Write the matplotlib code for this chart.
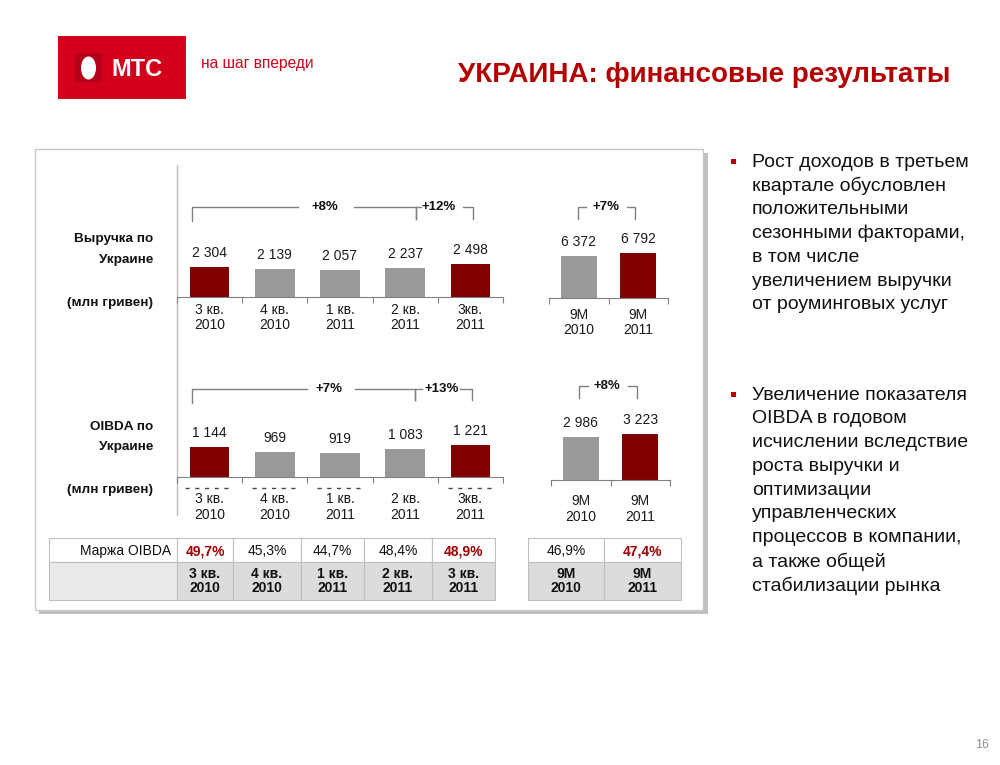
import matplotlib
matplotlib.use('Agg')
import matplotlib.pyplot as plt
from matplotlib.patches import Rectangle, Ellipse, FancyBboxPatch
import numpy as np

W, H = 1000, 765
RED = '#800000'
GREY = '#999999'
LINE = '#808080'
NARROW = ['Liberation Sans Narrow', 'Liberation Sans', 'DejaVu Sans']
SANS = ['Liberation Sans', 'DejaVu Sans']

# chart data
quarters = ['3 кв.\n2010', '4 кв.\n2010', '1 кв.\n2011', '2 кв.\n2011', '3кв.\n2011']
revenue_q = [2304, 2139, 2057, 2237, 2498]
oibda_q = [1144, 969, 919, 1083, 1221]
q_red = [True, False, False, False, True]

periods_9m = ['9M\n2010', '9M\n2011']
revenue_9m = [6372, 6792]
oibda_9m = [2986, 3223]
m9_red = [False, True]

revenue_growth = ['+8%', '+12%', '+7%']
oibda_growth = ['+7%', '+13%', '+8%']

# OIBDA margin table
margin_q = ['49,7%', '45,3%', '44,7%', '48,4%', '48,9%']
margin_9m = ['46,9%', '47,4%']
table_q = ['3 кв.\n2010', '4 кв.\n2010', '1 кв.\n2011', '2 кв.\n2011', '3 кв.\n2011']
table_9m = ['9M\n2010', '9M\n2011']

bullet1 = ['Рост доходов в третьем', 'квартале обусловлен', 'положительными',
           'сезонными факторами,', 'в том числе', 'увеличением выручки',
           'от роуминговых услуг']
bullet2 = ['Увеличение показателя', 'OIBDA в годовом', 'исчислении вследствие',
           'роста выручки и', 'оптимизации', 'управленческих',
           'процессов в компании,', 'а также общей', 'стабилизации рынка']


fig = plt.figure(figsize=(W / 100, H / 100), dpi=100, facecolor='white')
bg = fig.add_axes([0, 0, 1, 1])
bg.set_xlim(0, W)
bg.set_ylim(H, 0)
bg.axis('off')

# logo
bg.add_patch(Rectangle((58, 36), 128, 63, fc='#D3001C', ec='none'))
bg.add_patch(FancyBboxPatch((75, 53), 27, 29, boxstyle='round,pad=0,rounding_size=4',
                            fc='#B5001A', ec='none'))
bg.add_patch(Ellipse((88.5, 68), 15, 23, fc='white', ec='none'))
bg.text(111, 69, 'МТС', color='white', fontsize=17, fontweight='bold',
        family=SANS, ha='left', va='center')
bg.text(201, 63, 'на шаг впереди', color='#D0021B', fontsize=11.2,
        family=SANS, ha='left', va='center')

# title
bg.text(950, 75, 'УКРАИНА: финансовые результаты', color='#B40000', fontsize=20,
        fontweight='bold', family=SANS, ha='right', va='center')

# panel with shadow
bg.add_patch(Rectangle((39, 153), 669, 461, fc='#C0C0C0', ec='none'))
bg.add_patch(Rectangle((35, 149), 668, 461, fc='white', ec='#C8C8C8', lw=1))
bg.plot([177, 177], [165, 515], color='#BFBFBF', lw=1)

# row labels
row_labels = [(239, 'Выручка по'), (260, 'Украине'), (303, '(млн гривен)'),
              (427, 'OIBDA по'), (447, 'Украине'), (490, '(млн гривен)')]
for y0, txt in row_labels:
    bg.text(153, y0, txt, fontsize=9.7, fontweight='bold', family=SANS,
            ha='right', va='center', color='#111111')


def bar_panel(x0, x1, y_base, values, labels, red_flags, per_px, bar_w, pad):
    n = len(values)
    h_px = 100
    ax = fig.add_axes([x0 / W, (H - y_base) / H, (x1 - x0) / W, h_px / H])
    ax.patch.set_alpha(0)
    ax.set_xlim(-0.5, n - 0.5)
    ax.set_ylim(0, per_px * h_px)
    colors = [RED if r else GREY for r in red_flags]
    ax.bar(range(n), values, width=bar_w, color=colors)
    for i, v in enumerate(values):
        ax.annotate(f'{v:,}'.replace(',', ' '), (i, v), xytext=(0, 14),
                    textcoords='offset pixels', ha='center', va='center',
                    fontsize=10, family=NARROW, color='#1a1a1a')
    for s in ['top', 'left', 'right']:
        ax.spines[s].set_visible(False)
    ax.spines['bottom'].set_color(LINE)
    ax.set_yticks([])
    ax.set_xticks(np.arange(n + 1) - 0.5)
    ax.set_xticklabels([])
    ax.tick_params(axis='x', which='major', length=4, color=LINE, direction='out')
    ax.set_xticks(range(n), minor=True)
    ax.set_xticklabels(labels, minor=True, fontsize=10, family=NARROW,
                       color='#1a1a1a', linespacing=1.15)
    ax.tick_params(axis='x', which='minor', length=0, pad=pad)
    return ax


bar_panel(177, 503, 297, revenue_q, quarters, q_red, 76.5, 0.61, 4)
bar_panel(549, 668, 298, revenue_9m, periods_9m, m9_red, 152, 0.6, 7)
bar_panel(177, 503, 477, oibda_q, quarters, q_red, 38.2, 0.61, 11)
bar_panel(551, 670, 480, oibda_9m, periods_9m, m9_red, 69.8, 0.6, 10)

# leftover dashes under the OIBDA quarterly axis
for xa, xb in [(185, 229), (252, 295), (317, 360), (448, 495)]:
    bg.plot([xa, xb], [488, 488], color='#444444', lw=1, dashes=(3, 4))


def bracket(xl, xr, y, dl, dr, text, tx, ga, gb):
    bg.plot([xl, xl, ga], [y + dl, y, y], color=LINE, lw=1)
    bg.plot([gb, xr, xr], [y, y, y + dr], color=LINE, lw=1)
    bg.text(tx, y, text, fontsize=9.5, fontweight='bold', family=SANS,
            ha='center', va='center', color='#111111')


bracket(192, 416, 207, 14, 12, revenue_growth[0], 325, 298, 354)
bracket(416, 473, 207, 12, 12, revenue_growth[1], 439, 421, 463)
bracket(578, 635, 207, 12, 12, revenue_growth[2], 606, 586, 627)
bracket(192, 415, 389, 14, 11, oibda_growth[0], 329, 307, 355)
bracket(415, 472, 389, 11, 11, oibda_growth[1], 442, 422, 460)
bracket(579, 637, 386, 12, 12, oibda_growth[2], 607, 588, 628)


# margin table
def table_block(edges, values, reds, labels, head=None):
    y_top, y_mid, y_bot = 538, 562, 600
    for i in range(len(edges) - 1):
        xa, xb = edges[i], edges[i + 1]
        first = head is not None and i == 0
        bg.add_patch(Rectangle((xa, y_top), xb - xa, y_mid - y_top, fc='white',
                               ec='#BFBFBF', lw=0.8))
        bg.add_patch(Rectangle((xa, y_mid), xb - xa, y_bot - y_mid,
                               fc='#EAEAEA' if first else '#DCDCDC',
                               ec='#BFBFBF', lw=0.8))
    offset = 0
    if head is not None:
        bg.text(edges[1] - 6, 551, head, fontsize=10, family=NARROW,
                ha='right', va='center', color='#111111')
        offset = 1
    for j, (v, r, lab) in enumerate(zip(values, reds, labels)):
        cx = (edges[j + offset] + edges[j + offset + 1]) / 2
        bg.text(cx, 551, v, fontsize=10, family=NARROW,
                fontweight='bold' if r else 'normal',
                color='#A00000' if r else '#111111', ha='center', va='center')
        bg.text(cx, 581, lab, fontsize=10, family=NARROW, fontweight='bold',
                ha='center', va='center', linespacing=0.95, color='#111111')


table_block([49, 177, 233, 301, 364, 432, 495], margin_q, q_red, table_q, head='Маржа OIBDA')
table_block([528, 604, 681], margin_9m, m9_red, table_9m)

# commentary
for y0, lines in [(162, bullet1), (395, bullet2)]:
    bg.add_patch(Rectangle((731, y0 - 3), 5, 5, fc='#C00000', ec='none'))
    for k, line in enumerate(lines):
        bg.text(752, y0 + 23.8 * k, line, fontsize=14, family=SANS,
                ha='left', va='center', color='#111111')

bg.text(989, 745, '16', fontsize=9, family=SANS, ha='right', va='center', color='#909090')

fig.savefig('out.png', dpi=100, facecolor='white')
